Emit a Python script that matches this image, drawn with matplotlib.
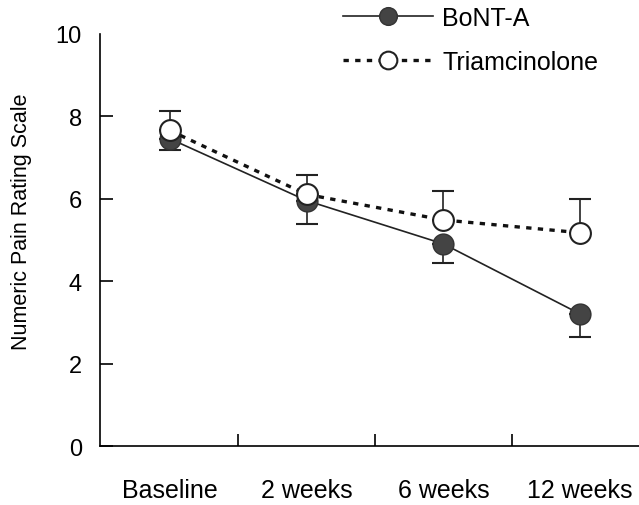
import matplotlib
matplotlib.use("Agg")
import matplotlib.pyplot as plt
import numpy as np

categories = ["Baseline", "2 weeks", "6 weeks", "12 weeks"]
bont_mean = [7.45, 5.95, 4.9, 3.2]
bont_err_low = [0.28, 0.57, 0.46, 0.56]
triam_mean = [7.65, 6.1, 5.48, 5.17]
triam_err_up = [0.46, 0.47, 0.7, 0.82]
yticks = [0, 2, 4, 6, 8, 10]

plt.rcParams['font.family'] = ['Liberation Sans', 'DejaVu Sans']

fig = plt.figure(figsize=(6.39, 5.06), dpi=100)
ax = fig.add_axes([0.1565, 0.1166, 0.8435, 0.8152])

x = np.arange(len(categories))
zeros = np.zeros(len(categories))

# error bars (one-sided)
ax.errorbar(x, bont_mean, yerr=[bont_err_low, zeros], fmt='none',
            ecolor='#222222', elinewidth=1.2, capsize=8, capthick=1.5, zorder=2)
ax.errorbar(x, triam_mean, yerr=[zeros, triam_err_up], fmt='none',
            ecolor='#222222', elinewidth=1.2, capsize=8, capthick=1.5, zorder=2)

ax.plot(x, bont_mean, color='#222222', linewidth=1.2, marker='o',
        markersize=15, markerfacecolor='#444444', markeredgecolor='#333333',
        label='BoNT-A', zorder=3)
ax.plot(x, triam_mean, color='#111111', linewidth=2.4, linestyle=(0, (1.6, 1.9)),
        marker='o', markersize=15, markerfacecolor='white',
        markeredgecolor='#222222', markeredgewidth=1.5,
        label='Triamcinolone', zorder=4)

ax.set_xlim(-0.51, 3.43)
ax.set_ylim(0, 10)

ax.spines['top'].set_visible(False)
ax.spines['right'].set_visible(False)
ax.spines['left'].set_linewidth(1.2)
ax.spines['bottom'].set_linewidth(1.2)

ax.set_yticks(yticks)
ax.tick_params(axis='y', direction='in', length=9, width=1.2, pad=13, labelsize=17)
ax.yaxis.get_major_ticks()[-1].tick1line.set_visible(False)
ax.set_xticks(x, categories)
ax.tick_params(axis='x', which='major', length=0, pad=23, labelsize=18)
ax.set_xticks((x[:-1] + x[1:]) / 2, minor=True)
ax.tick_params(axis='x', which='minor', direction='in', length=9, width=1.2)

ax.set_ylabel("Numeric Pain Rating Scale", fontsize=15.5)
ax.yaxis.set_label_coords(-0.126, 0.545)

ax.legend(loc='upper left', bbox_to_anchor=(0.537, 0.986), bbox_transform=fig.transFigure,
          frameon=False, fontsize=18, handlelength=3.6, handletextpad=0.36,
          labelspacing=0.8, borderaxespad=0, borderpad=0, markerscale=0.85)

fig.savefig("out.png", dpi=100)
